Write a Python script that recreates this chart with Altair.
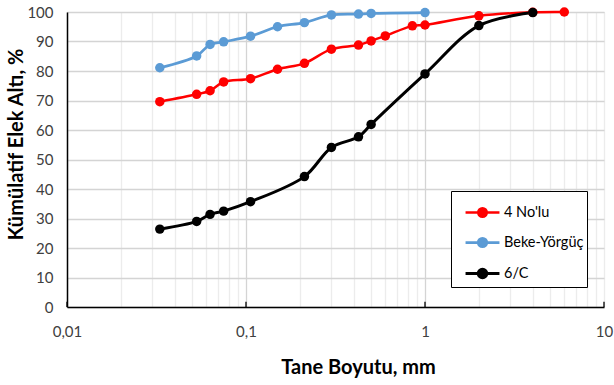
import altair as alt
import pandas as pd

series_names = ["4 No'lu", "Beke-Yörgüç", "6/C"]
series_colors = ["#ff0000", "#5b9bd5", "#000000"]
series_widths = [2.5, 3.0, 2.0]

sizes_4 = [0.033, 0.053, 0.063, 0.075, 0.106, 0.15, 0.212, 0.3, 0.425, 0.5, 0.6, 0.85, 1.0, 2.0, 4.0, 6.0]
pass_4 = [69.6, 72.1, 73.3, 76.3, 77.4, 80.6, 82.6, 87.4, 88.8, 90.2, 91.9, 95.3, 95.6, 98.7, 99.9, 100.0]

sizes_bk = [0.033, 0.053, 0.063, 0.075, 0.106, 0.15, 0.212, 0.3, 0.425, 0.5, 1.0]
pass_bk = [81.1, 85.1, 89.0, 89.9, 91.8, 95.0, 96.4, 99.0, 99.3, 99.5, 99.8]

sizes_6c = [0.033, 0.053, 0.063, 0.075, 0.106, 0.212, 0.3, 0.425, 0.5, 1.0, 2.0, 4.0]
pass_6c = [26.4, 29.0, 31.4, 32.5, 35.7, 44.2, 54.1, 57.7, 61.9, 79.0, 95.4, 99.8]

decades = [0.01, 0.1, 1, 10]
y_ticks = list(range(0, 101, 10))

rows = []
for name, xs, ys in zip(series_names, [sizes_4, sizes_bk, sizes_6c], [pass_4, pass_bk, pass_6c]):
    for i, (x, y) in enumerate(zip(xs, ys)):
        rows.append({"series": name, "size": x, "pass": y, "idx": i})
df = pd.DataFrame(rows)

grid_vals = [round(d * m, 4) for d in [0.01, 0.1, 1] for m in range(1, 10)] + [10]

FONT = "Lato"

color_legend = alt.Legend(
    title=None,
    orient="none",
    legendX=384,
    legendY=179,
    strokeColor="black",
    fillColor="white",
    padding=3,
    symbolOffset=10,
    rowPadding=2,
    labelOffset=3,
    labelFont=FONT,
    labelFontSize=14.5,
    labelColor="#000000",
    symbolSize=1150,
    symbolStrokeWidth=2.5,
    symbolType="M-1,0L1,0M-0.25,0A0.25,0.25,0,1,1,0.25,0A0.25,0.25,0,1,1,-0.25,0Z",
)

color_enc = alt.Color("series:N", scale=alt.Scale(domain=series_names, range=series_colors),
                      legend=color_legend)

x_scale = alt.Scale(type="log", domain=[0.01, 10], nice=False)
x_axis = alt.Axis(
    title="Tane Boyutu, mm",
    values=grid_vals,
    labelExpr="datum.value == 0.01 ? '0,01' : datum.value == 0.1 ? '0,1' : datum.value == 1 ? '1' : datum.value == 10 ? '10' : ''",
    labelOverlap=False,
    labelFlush=False,
    labelFont=FONT,
    labelFontSize=15,
    labelColor="#404040",
    labelPadding=17,
    ticks=False,
    grid=True,
    gridColor={"condition": {"test": "datum.value == 0.1 || datum.value == 1", "value": "#d4d4d4"}, "value": "#ececec"},
    gridWidth=1.3,
    domainColor="black",
    domainWidth=1.5,
    titleFont=FONT,
    titleFontSize=20,
    titleFontWeight="bold",
    titleColor="#000000",
    titleX=291,
    titleY=60,
    titleAlign="center",
    titleBaseline="middle",
)

y_scale = alt.Scale(domain=[0, 100], nice=False)
y_axis = alt.Axis(
    title="Kümülatif Elek Altı, %",
    values=y_ticks,
    labelOverlap=False,
    labelFont=FONT,
    labelFontSize=15,
    labelColor="#404040",
    labelPadding=14,
    ticks=False,
    grid=True,
    gridColor="#d4d4d4",
    gridWidth=1.3,
    domainColor="black",
    domainWidth=1.5,
    titleFont=FONT,
    titleFontSize=20,
    titleFontWeight="bold",
    titleColor="#000000",
    titleX=-51,
    titleY=132,
    titleAlign="center",
    titleBaseline="middle",
    titleAngle=270,
)

lines = alt.Chart(df).mark_line(interpolate="catmull-rom").encode(
    x=alt.X("size:Q", scale=x_scale, axis=x_axis),
    y=alt.Y("pass:Q", scale=y_scale, axis=y_axis),
    color=color_enc,
    strokeWidth=alt.StrokeWidth("series:N", scale=alt.Scale(domain=series_names, range=series_widths), legend=None),
    order="idx:Q",
)

points = alt.Chart(df).mark_point(filled=True, size=90, opacity=1, shape="circle").encode(
    x=alt.X("size:Q", scale=x_scale, axis=x_axis),
    y=alt.Y("pass:Q", scale=y_scale, axis=y_axis),
    color=color_enc,
)

tick_df = pd.DataFrame({"tx": decades, "y0": [0] * 4, "y1": [1.8] * 4})
ticks = alt.Chart(tick_df).mark_rule(color="black", strokeWidth=1.3).encode(
    x=alt.X("tx:Q", scale=x_scale, axis=x_axis),
    y=alt.Y("y0:Q", scale=y_scale, axis=y_axis),
    y2="y1:Q",
)

chart = alt.layer(lines, ticks, points).properties(
    width=537,
    height=295,
    padding={"left": 67, "top": 12, "right": 10, "bottom": 78},
    autosize=alt.AutoSizeParams(type="none"),
).configure_view(stroke="black", strokeWidth=1.5).configure_axis(
    labelOverlap=False
).configure(background="white")

chart.save("out.html", embed_options={"renderer": "svg", "actions": False})
